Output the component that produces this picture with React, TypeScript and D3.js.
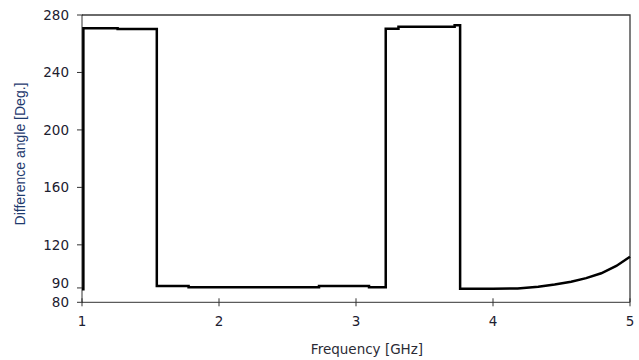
import React from "react";
import * as d3 from "d3";

// Phase difference vs. frequency (step-like response with rising tail)
const freqGHz = [
  1.0, 1.01, 1.01, 1.26, 1.26, 1.546, 1.546, 1.778, 1.778, 2.73, 2.73, 3.095,
  3.095, 3.217, 3.217, 3.31, 3.31, 3.72, 3.72, 3.76, 3.76, 4.0, 4.18, 4.33,
  4.45, 4.57, 4.68, 4.79, 4.9, 5.0,
];
const angleDeg = [
  89.0, 89.0, 270.7, 270.7, 270.2, 270.2, 91.3, 91.3, 90.4, 90.4, 91.3, 91.3,
  90.4, 90.4, 270.5, 270.5, 271.9, 271.9, 272.8, 272.8, 89.5, 89.5, 89.6, 90.9,
  92.4, 94.3, 96.8, 100.2, 105.3, 111.7,
];

const xTicks = [1, 2, 3, 4, 5];
const yTicks = [80, 90, 120, 160, 200, 240, 280];

const W = 639;
const H = 360;
const left = 82;
const right = 630;
const top = 15;
const bottom = 302.3;

export default function App() {
  const x = d3.scaleLinear().domain([1, 5]).range([left, right]);
  const y = d3.scaleLinear().domain([80, 280]).range([bottom, top]);
  const pts = freqGHz.map((f, i) => [f, angleDeg[i]] as [number, number]);
  const line = d3
    .line<[number, number]>()
    .x((d) => x(d[0]))
    .y((d) => y(d[1]));

  const tickColor = "#1c2030";
  const font = "'DejaVu Sans', Tahoma, sans-serif";

  return (
    <svg
      width={W}
      height={H}
      style={{ position: "absolute", left: 0, top: 0, background: "#fff" }}
    >
      {/* frame: top and right edges */}
      <path
        d={`M${left},${top}H${right}V${bottom}`}
        fill="none"
        stroke="#3a3a3a"
        strokeWidth={1.3}
      />
      {/* axes */}
      <line x1={left} x2={right} y1={bottom} y2={bottom} stroke="#333" strokeWidth={1} />
      <line x1={left} x2={left} y1={top} y2={bottom} stroke="#333" strokeWidth={1} />

      {xTicks.map((t) => (
        <g key={`x${t}`}>
          <line x1={x(t)} x2={x(t)} y1={bottom - 4} y2={bottom + 4} stroke="#333" />
          <text
            x={x(t)}
            y={bottom + 24}
            textAnchor="middle"
            fontFamily={font}
            fontSize={13.5}
            fill={tickColor}
          >
            {t}
          </text>
        </g>
      ))}
      {yTicks.map((t) => (
        <g key={`y${t}`}>
          <line x1={left - 5} x2={left + 1} y1={y(t)} y2={y(t)} stroke="#333" />
          <text
            x={left - 13}
            y={y(t) - (t === 90 ? 4.5 : 0)}
            dy="0.36em"
            textAnchor="end"
            fontFamily={font}
            fontSize={13.5}
            fill={tickColor}
          >
            {t}
          </text>
        </g>
      ))}

      <path d={line(pts) ?? ""} fill="none" stroke="#000" strokeWidth={2.5} strokeLinejoin="miter" />

      <text
        x={(left + right) / 2 + 11}
        y={354}
        textAnchor="middle"
        fontFamily={font}
        fontSize={13.5}
        fill="#2b2b35"
      >
        Frequency [GHz]
      </text>
      <text
        transform={`translate(25,${154}) rotate(-90)`}
        textAnchor="middle"
        fontFamily="'Liberation Sans', Arial, sans-serif"
        fontSize={14}
        fill="#1e3a6e"
      >
        Difference angle [Deg.]
      </text>
    </svg>
  );
}
